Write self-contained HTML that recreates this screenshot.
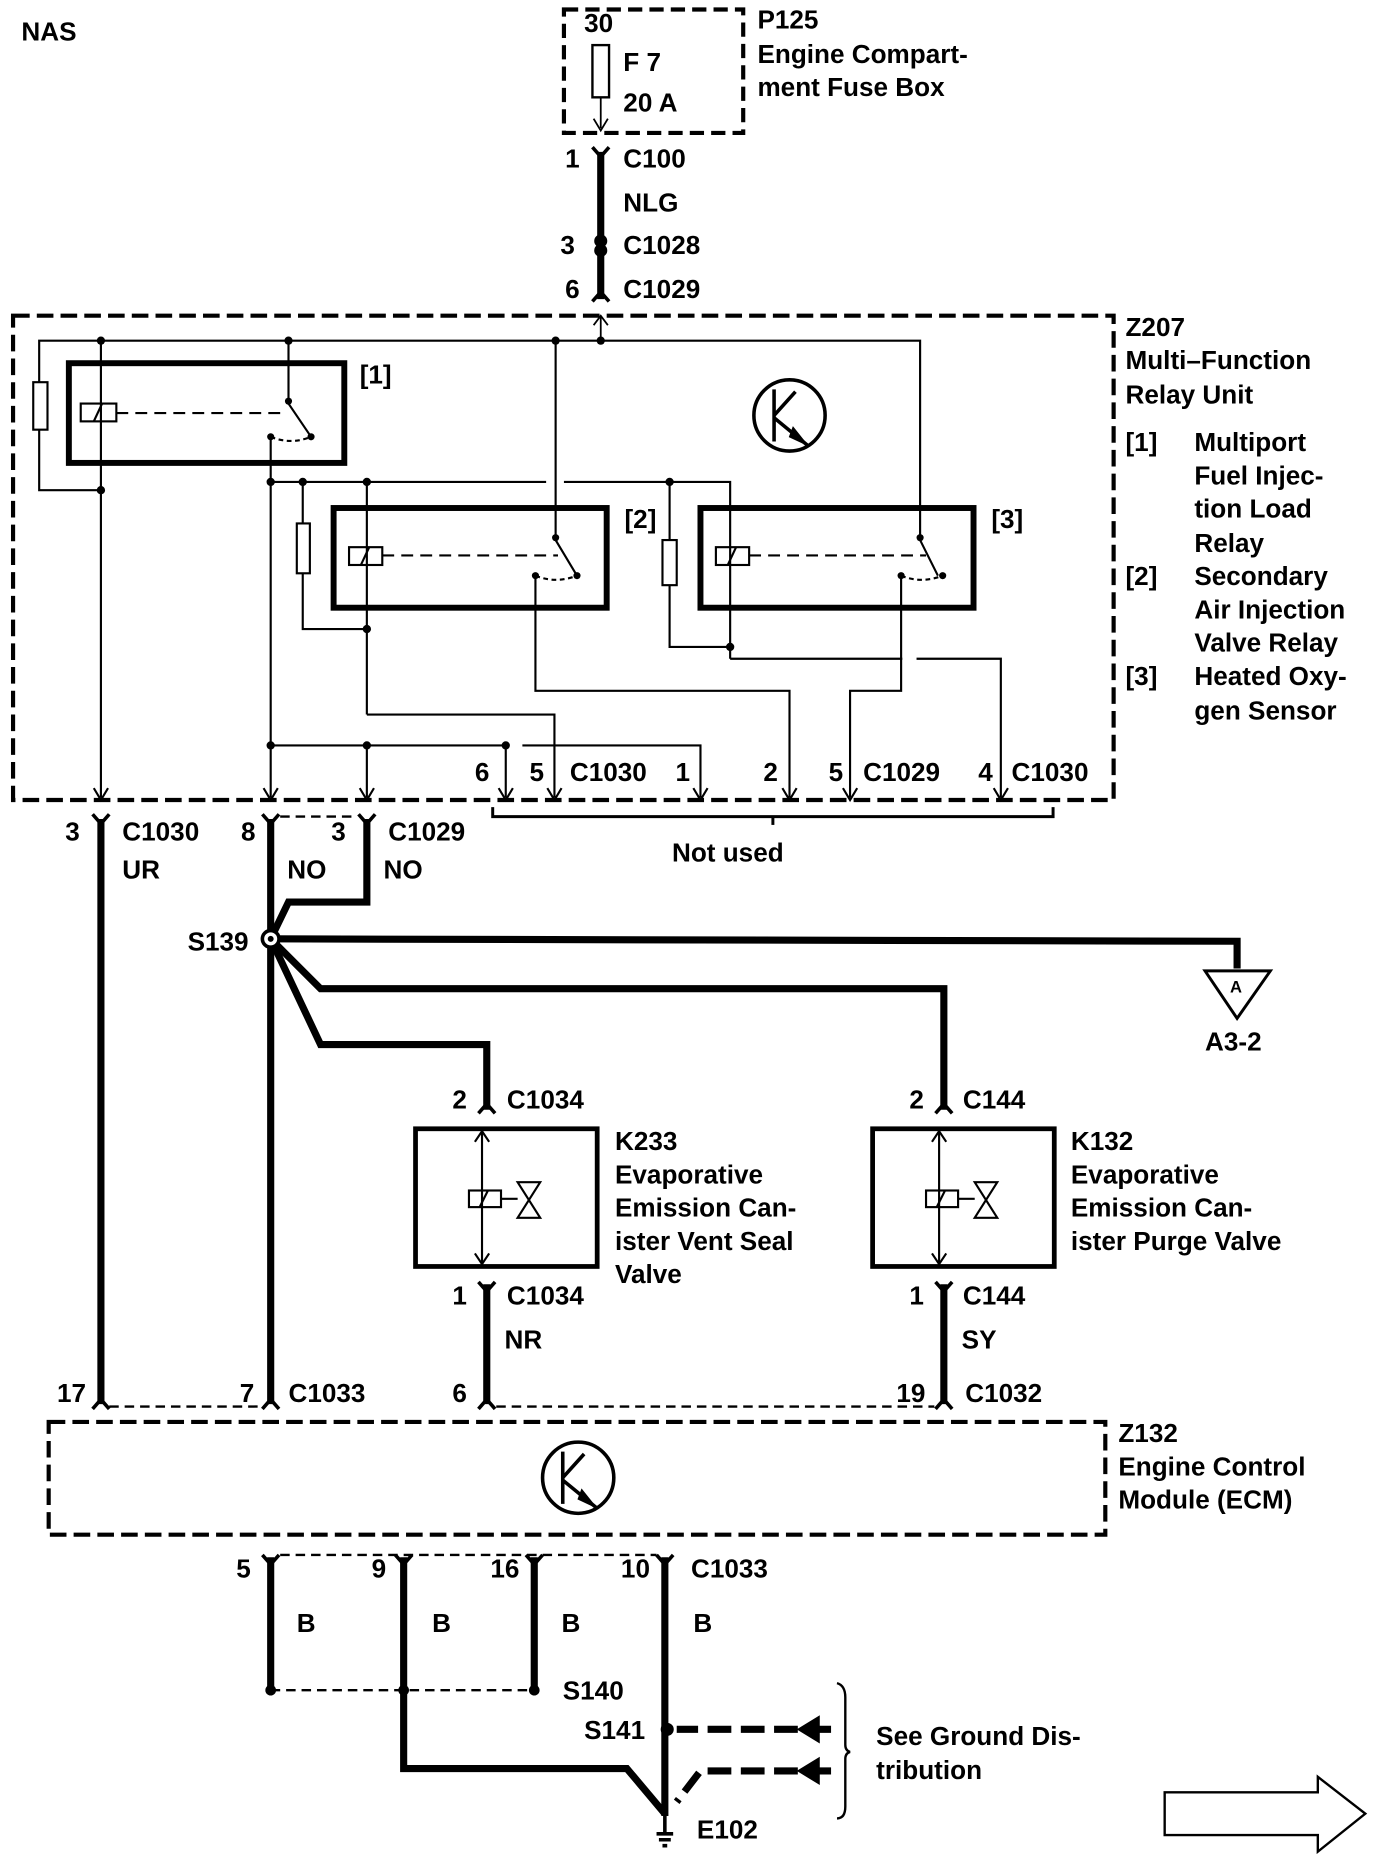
<!DOCTYPE html>
<html><head><meta charset="utf-8"><style>
html,body{margin:0;padding:0;background:#fff;}
svg{display:block;}
text{font-family:"Liberation Sans",Arial,sans-serif;font-weight:bold;font-size:22px;fill:#000;}
</style></head><body>
<svg width="1376" height="1854" viewBox="0 0 1159 1562" preserveAspectRatio="none" xmlns="http://www.w3.org/2000/svg">
<g fill="none" stroke="#000">
<rect x="475" y="8" width="151" height="104" stroke-width="3.5" stroke-dasharray="12,6"/>
<rect x="499" y="38" width="14" height="44" stroke-width="2"/>
<line x1="506" y1="82" x2="506" y2="108" stroke-width="1.5"/>
<path d="M500,100 L506,110 L512,100" stroke-width="1.5"/>
<line x1="506" y1="128" x2="506" y2="252" stroke-width="6"/>
<path d="M499,124 L506,132 L513,124" stroke-width="3"/>
<path d="M499,254 L506,246 L513,254" stroke-width="3"/>
<circle cx="506" cy="203" r="4" stroke-width="3"/>
<circle cx="506" cy="211" r="4" stroke-width="3"/>
<rect x="11" y="266" width="927" height="408" stroke-width="3.5" stroke-dasharray="14,6"/>
<path d="M506,266 L506,287 M500,274 L506,266 L512,274" stroke-width="1.5"/>
<g stroke-width="1.8">
<polyline points="33,322 33,287 775,287 775,455 790,485"/>
<rect x="28" y="322" width="12" height="40"/>
<polyline points="33,362 33,413 85,413"/>
<line x1="85" y1="287" x2="85" y2="672"/>
<polyline points="243,287 243,340 262,368"/>
<line x1="228" y1="368" x2="228" y2="672"/>
<line x1="468" y1="287" x2="468" y2="455"/>
<line x1="468" y1="455" x2="486" y2="485"/>
<polyline points="228,406 460,406"/>
<polyline points="475,406 615,406 615,555"/>
<line x1="255" y1="406" x2="255" y2="441"/>
<rect x="250" y="441" width="11" height="42"/>
<polyline points="255,483 255,530 309,530"/>
<line x1="309" y1="406" x2="309" y2="602"/>
<polyline points="309,602 467,602 467,672"/>
<polyline points="451,485 451,582 665,582 665,672"/>
<line x1="564" y1="406" x2="564" y2="455"/>
<rect x="558" y="455" width="12" height="38"/>
<polyline points="564,493 564,545 615,545"/>
<polyline points="615,555 760,555"/>
<polyline points="772,555 843,555 843,672"/>
<polyline points="759,485 759,582 716,582 716,672"/>
<polyline points="228,628 426,628"/>
<polyline points="440,628 590,628 590,672"/>
<line x1="426" y1="628" x2="426" y2="672"/>
<line x1="309" y1="628" x2="309" y2="672"/>
<path d="M79,664 L85,674 L91,664 M222,664 L228,674 L234,664 M303,664 L309,674 L315,664 M420,664 L426,674 L432,664 M461,664 L467,674 L473,664 M584,664 L590,674 L596,664 M659,664 L665,674 L671,664 M710,664 L716,674 L722,664 M837,664 L843,674 L849,664"/>
<rect x="68" y="340" width="30" height="15"/>
<path d="M79,355 L86,340"/>
<line x1="98" y1="348" x2="240" y2="348" stroke-dasharray="10,6"/>
<rect x="294" y="461" width="28" height="15"/>
<path d="M304,476 L311,461"/>
<line x1="322" y1="468" x2="470" y2="468" stroke-dasharray="10,6"/>
<rect x="603" y="461" width="28" height="15"/>
<path d="M613,476 L620,461"/>
<line x1="631" y1="468" x2="780" y2="468" stroke-dasharray="10,6"/>
<path d="M228,368 Q245,375 262,368" stroke-dasharray="4,3"/>
<path d="M451,485 Q468,492 486,485" stroke-dasharray="4,3"/>
<path d="M759,485 Q776,492 794,485" stroke-dasharray="4,3"/>
<polyline points="415,680 415,688 887,688 887,680" stroke-width="2.5"/>
<line x1="651" y1="688" x2="651" y2="695" stroke-width="2.5"/>
</g>
<g fill="#000" stroke="none">
<circle cx="85" cy="287" r="3.5"/><circle cx="243" cy="287" r="3.5"/><circle cx="468" cy="287" r="3.5"/><circle cx="506" cy="287" r="3.5"/>
<circle cx="85" cy="413" r="3.5"/><circle cx="228" cy="406" r="3.5"/><circle cx="255" cy="406" r="3.5"/><circle cx="309" cy="406" r="3.5"/><circle cx="564" cy="406" r="3.5"/>
<circle cx="309" cy="530" r="3.5"/><circle cx="615" cy="545" r="3.5"/><circle cx="228" cy="628" r="3.5"/><circle cx="309" cy="628" r="3.5"/><circle cx="426" cy="628" r="3.5"/>
<circle cx="243" cy="338" r="3"/><circle cx="262" cy="368" r="3"/><circle cx="228" cy="368" r="3"/>
<circle cx="468" cy="453" r="3"/><circle cx="486" cy="485" r="3"/><circle cx="451" cy="485" r="3"/>
<circle cx="775" cy="453" r="3"/><circle cx="794" cy="485" r="3"/><circle cx="759" cy="485" r="3"/>
</g>
<rect x="58" y="306" width="232" height="84" stroke-width="5"/>
<rect x="281" y="428" width="230" height="84" stroke-width="5"/>
<rect x="590" y="428" width="230" height="84" stroke-width="5"/>
<circle cx="665" cy="350" r="30" stroke-width="3"/>
<path d="M652,328 L652,372 M652,350 L670,330 M652,352 L680,375" stroke-width="3"/>
<path d="M668,360 L680,375 L665,368 Z" fill="#000" stroke-width="1"/>
<g stroke-width="6">
<line x1="85" y1="690" x2="85" y2="1183"/>
<line x1="228" y1="690" x2="228" y2="1183"/>
<polyline points="309,690 309,760 243,760 228,791"/>
<polyline points="228,791 1042,793 1042,816"/>
<polyline points="228,791 270,833 795,833 795,935"/>
<polyline points="228,791 270,880 410,880 410,935"/>
<line x1="410" y1="1082" x2="410" y2="1183"/>
<line x1="795" y1="1082" x2="795" y2="1183"/>
</g>
<g stroke-width="3">
<path d="M78,686 L85,694 L92,686 M221,686 L228,694 L235,686 M302,686 L309,694 L316,686"/>
<path d="M403,938 L410,930 L417,938 M788,938 L795,930 L802,938"/>
<path d="M403,1080 L410,1088 L417,1080 M788,1080 L795,1088 L802,1080"/>
<path d="M78,1187 L85,1179 L92,1187 M221,1187 L228,1179 L235,1187 M403,1187 L410,1179 L417,1187 M788,1187 L795,1179 L802,1187"/>
</g>
<line x1="236" y1="688" x2="300" y2="688" stroke-width="2" stroke-dasharray="8,5"/>
<line x1="92" y1="1185" x2="220" y2="1185" stroke-width="2" stroke-dasharray="8,5"/>
<line x1="418" y1="1185" x2="787" y2="1185" stroke-width="2" stroke-dasharray="8,5"/>
<circle cx="228" cy="791" r="7" fill="#fff" stroke-width="3"/>
<circle cx="228" cy="791" r="2" fill="#000"/>
<path d="M1015,818 L1070,818 L1042,858 Z" stroke-width="2.5"/>
<rect x="350" y="951" width="153" height="116" stroke-width="4"/>
<rect x="735" y="951" width="153" height="116" stroke-width="4"/>
<g stroke-width="1.8">
<line x1="406" y1="953" x2="406" y2="1065"/>
<path d="M400,962 L406,953 L412,962 M400,1056 L406,1065 L412,1056"/>
<rect x="395" y="1003" width="27" height="14"/>
<path d="M404,1017 L411,1003 M422,1010 L436,1010 M436,996 L455,996 L436,1026 L455,1026 Z"/>
<line x1="791" y1="953" x2="791" y2="1065"/>
<path d="M785,962 L791,953 L797,962 M785,1056 L791,1065 L797,1056"/>
<rect x="780" y="1003" width="27" height="14"/>
<path d="M789,1017 L796,1003 M807,1010 L821,1010 M821,996 L840,996 L821,1026 L840,1026 Z"/>
</g>
<rect x="41" y="1198" width="890" height="95" stroke-width="3.5" stroke-dasharray="14,6"/>
<circle cx="487" cy="1245" r="30" stroke-width="3"/>
<path d="M474,1223 L474,1267 M474,1245 L492,1225 M474,1247 L502,1270" stroke-width="3"/>
<path d="M490,1255 L502,1270 L487,1263 Z" fill="#000" stroke-width="1"/>
<g stroke-width="6">
<line x1="228" y1="1312" x2="228" y2="1423"/>
<line x1="340" y1="1312" x2="340" y2="1423"/>
<line x1="450" y1="1312" x2="450" y2="1423"/>
<polyline points="340,1423 340,1490 528,1490 560,1528"/>
<line x1="560" y1="1312" x2="560" y2="1530"/>
<polyline points="700,1457 570,1457" stroke-dasharray="20,8"/>
<polyline points="700,1492 590,1492 570,1518" stroke-dasharray="20,8"/>
</g>
<path d="M221,1310 L228,1318 L235,1310 M333,1310 L340,1318 L347,1310 M443,1310 L450,1318 L457,1310 M553,1310 L560,1318 L567,1310" stroke-width="3"/>
<line x1="236" y1="1310" x2="553" y2="1310" stroke-width="2" stroke-dasharray="8,5"/>
<line x1="228" y1="1424" x2="450" y2="1424" stroke-width="2" stroke-dasharray="8,5"/>
<circle cx="228" cy="1424" r="4" fill="#000"/>
<circle cx="340" cy="1424" r="4" fill="#000"/>
<circle cx="450" cy="1424" r="4" fill="#000"/>
<circle cx="562" cy="1457" r="5" fill="#000"/>
<path d="M690,1446 L690,1468 L672,1457 Z M690,1481 L690,1503 L672,1492 Z" fill="#000" stroke-width="1"/>
<path d="M705,1418 Q712,1420 712,1430 L712,1470 Q712,1475 716,1476 Q712,1477 712,1482 L712,1522 Q712,1532 705,1532" stroke-width="2"/>
<path d="M560,1530 L560,1545 M553,1545 L567,1545 M555,1550 L565,1550 M558,1555 L562,1555" stroke-width="3"/>
<path d="M981,1510 L1110,1510 L1110,1497 L1150,1528 L1110,1560 L1110,1546 L981,1546 Z" stroke-width="2"/>
</g>
<text x="18" y="34">NAS</text>
<text x="492" y="27">30</text>
<text x="525" y="60">F 7</text>
<text x="525" y="94">20 A</text>
<text x="638" y="24">P125</text>
<text x="638" y="53">Engine Compart-</text>
<text x="638" y="81">ment Fuse Box</text>
<text x="476" y="141">1</text><text x="525" y="141">C100</text>
<text x="525" y="178">NLG</text>
<text x="472" y="214">3</text><text x="525" y="214">C1028</text>
<text x="476" y="251">6</text><text x="525" y="251">C1029</text>
<text x="948" y="283">Z207</text>
<text x="948" y="311">Multi–Function</text>
<text x="948" y="340">Relay Unit</text>
<text x="948" y="380">[1]</text><text x="1006" y="380">Multiport</text>
<text x="1006" y="408">Fuel Injec-</text>
<text x="1006" y="436">tion Load</text>
<text x="1006" y="465">Relay</text>
<text x="948" y="493">[2]</text><text x="1006" y="493">Secondary</text>
<text x="1006" y="521">Air Injection</text>
<text x="1006" y="549">Valve Relay</text>
<text x="948" y="577">[3]</text><text x="1006" y="577">Heated Oxy-</text>
<text x="1006" y="606">gen Sensor</text>
<text x="303" y="323">[1]</text>
<text x="526" y="445">[2]</text>
<text x="835" y="445">[3]</text>
<text x="400" y="658">6</text><text x="446" y="658">5</text><text x="480" y="658">C1030</text>
<text x="569" y="658">1</text><text x="643" y="658">2</text><text x="698" y="658">5</text><text x="727" y="658">C1029</text>
<text x="824" y="658">4</text><text x="852" y="658">C1030</text>
<text x="566" y="726">Not used</text>
<text x="55" y="708">3</text><text x="103" y="708">C1030</text>
<text x="103" y="740">UR</text>
<text x="203" y="708">8</text><text x="279" y="708">3</text><text x="327" y="708">C1029</text>
<text x="242" y="740">NO</text><text x="323" y="740">NO</text>
<text x="158" y="801">S139</text>
<text x="1036" y="836" style="font-size:14px">A</text>
<text x="1015" y="885">A3-2</text>
<text x="381" y="934">2</text><text x="427" y="934">C1034</text>
<text x="766" y="934">2</text><text x="811" y="934">C144</text>
<text x="518" y="969">K233</text>
<text x="518" y="997">Evaporative</text>
<text x="518" y="1025">Emission Can-</text>
<text x="518" y="1053">ister Vent Seal</text>
<text x="518" y="1081">Valve</text>
<text x="902" y="969">K132</text>
<text x="902" y="997">Evaporative</text>
<text x="902" y="1025">Emission Can-</text>
<text x="902" y="1053">ister Purge Valve</text>
<text x="381" y="1099">1</text><text x="427" y="1099">C1034</text>
<text x="766" y="1099">1</text><text x="811" y="1099">C144</text>
<text x="425" y="1136">NR</text><text x="810" y="1136">SY</text>
<text x="48" y="1181">17</text><text x="202" y="1181">7</text><text x="243" y="1181">C1033</text>
<text x="381" y="1181">6</text><text x="755" y="1181">19</text><text x="813" y="1181">C1032</text>
<text x="942" y="1215">Z132</text>
<text x="942" y="1243">Engine Control</text>
<text x="942" y="1271">Module (ECM)</text>
<text x="199" y="1329">5</text><text x="313" y="1329">9</text><text x="413" y="1329">16</text><text x="523" y="1329">10</text><text x="582" y="1329">C1033</text>
<text x="250" y="1375">B</text><text x="364" y="1375">B</text><text x="473" y="1375">B</text><text x="584" y="1375">B</text>
<text x="474" y="1432">S140</text>
<text x="492" y="1465">S141</text>
<text x="738" y="1470">See Ground Dis-</text>
<text x="738" y="1499">tribution</text>
<text x="587" y="1549">E102</text>
</svg>
</body></html>
